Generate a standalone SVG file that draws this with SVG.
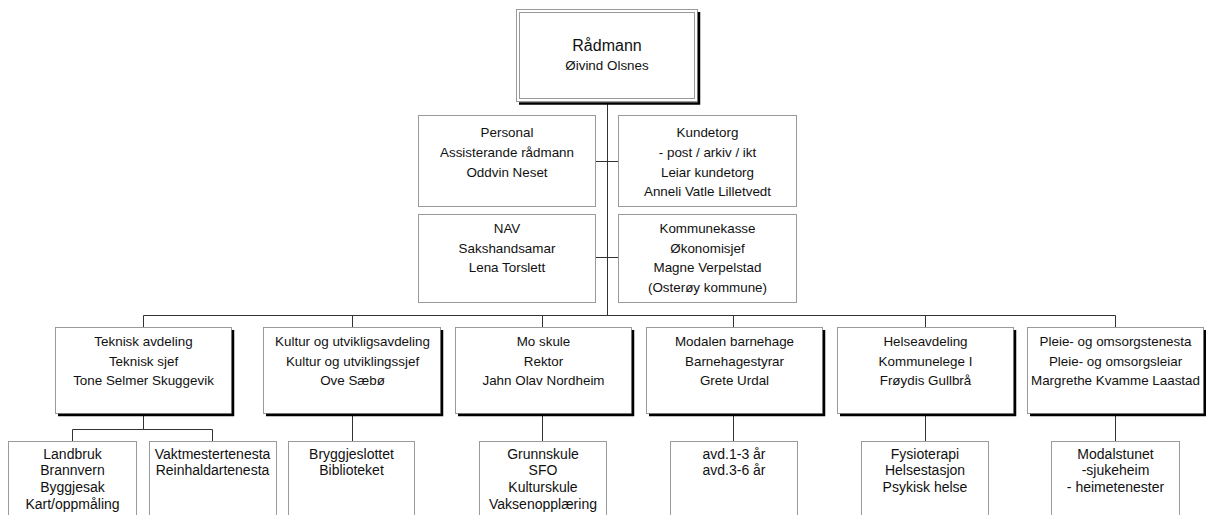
<svg xmlns="http://www.w3.org/2000/svg" width="1206" height="515" viewBox="0 0 1206 515">
<style>
  text { font-family: "Liberation Sans", Arial, sans-serif; font-size: 13.4px; fill: #111; text-anchor: middle; }
  .big { font-size: 16px; }
  .s3 { font-size: 14px; }
  .box { fill: #fff; stroke: #9a9a9a; stroke-width: 1; }
  .shadow { fill: none; stroke: #000; stroke-width: 2.5; }
  .conn { fill: none; stroke: #333; stroke-width: 1; }
</style>
<rect width="1206" height="515" fill="#fff"/>

<g id="connectors">
  <path class="conn" d="M607.5 103 V315.5"/>
  <path class="conn" d="M596 161.5 H618"/>
  <path class="conn" d="M596 257.5 H618"/>
  <path class="conn" d="M143.5 315.5 H1115.5"/>
  <path class="conn" d="M143.5 315.5 V327 M352.5 315.5 V327 M542.5 315.5 V327 M733.5 315.5 V327 M925.5 315.5 V327 M1115.5 315.5 V327"/>
  <path class="conn" d="M143.5 416 V429.5 M72.5 441 V429.5 H212.5 V441"/>
  <path class="conn" d="M352.5 416 V441 M542.5 416 V441 M733.5 416 V441 M925.5 416 V441 M1115.5 416 V441"/>
</g>

<g id="radmann">
  <rect class="box" x="516.5" y="9.5" width="181" height="92"/>
  <rect class="box" x="519.5" y="12.5" width="175" height="86"/>
  <path class="shadow" d="M699 12 V103.5 H519"/>
  <text class="big" x="607" y="51">Rådmann</text>
  <text x="607" y="70">Øivind Olsnes</text>
</g>

<g id="personal">
  <rect class="box" x="418.5" y="115.5" width="177" height="91"/>
  <text x="507" y="137">Personal</text>
  <text x="507" y="157">Assisterande rådmann</text>
  <text x="507" y="176.5">Oddvin Neset</text>
</g>
<g id="kundetorg">
  <rect class="box" x="618.5" y="115.5" width="178" height="91"/>
  <text x="707.5" y="137">Kundetorg</text>
  <text x="707.5" y="157">- post / arkiv / ikt</text>
  <text x="707.5" y="176.5">Leiar kundetorg</text>
  <text x="707.5" y="196">Anneli Vatle Lilletvedt</text>
</g>
<g id="nav">
  <rect class="box" x="418.5" y="214.5" width="177" height="88"/>
  <text x="507" y="233">NAV</text>
  <text x="507" y="252.5">Sakshandsamar</text>
  <text x="507" y="272">Lena Torslett</text>
</g>
<g id="kommunekasse">
  <rect class="box" x="618.5" y="214.5" width="178" height="88"/>
  <text x="707.5" y="233">Kommunekasse</text>
  <text x="707.5" y="252.5">Økonomisjef</text>
  <text x="707.5" y="272">Magne Verpelstad</text>
  <text x="707.5" y="292">(Osterøy kommune)</text>
</g>

<g id="teknisk">
  <rect class="box" x="55.5" y="327.5" width="176" height="86"/>
  <path class="shadow" d="M233 330 V415 H58"/>
  <text x="143.5" y="346">Teknisk avdeling</text>
  <text x="143.5" y="365.5">Teknisk sjef</text>
  <text x="143.5" y="385">Tone Selmer Skuggevik</text>
</g>
<g id="kultur">
  <rect class="box" x="263.5" y="327.5" width="177" height="86"/>
  <path class="shadow" d="M442 330 V415 H266"/>
  <text x="352.5" y="346">Kultur og utvikligsavdeling</text>
  <text x="352.5" y="365.5">Kultur og utviklingssjef</text>
  <text x="352.5" y="385">Ove Sæbø</text>
</g>
<g id="moskule">
  <rect class="box" x="455.5" y="327.5" width="176" height="86"/>
  <path class="shadow" d="M633 330 V415 H458"/>
  <text x="543.5" y="346">Mo skule</text>
  <text x="543.5" y="365.5">Rektor</text>
  <text x="543.5" y="385">Jahn Olav Nordheim</text>
</g>
<g id="barnehage">
  <rect class="box" x="646.5" y="327.5" width="176" height="86"/>
  <path class="shadow" d="M824 330 V415 H649"/>
  <text x="734.5" y="346">Modalen barnehage</text>
  <text x="734.5" y="365.5">Barnehagestyrar</text>
  <text x="734.5" y="385">Grete Urdal</text>
</g>
<g id="helse">
  <rect class="box" x="837.5" y="327.5" width="176" height="86"/>
  <path class="shadow" d="M1015 330 V415 H840"/>
  <text x="925.5" y="346">Helseavdeling</text>
  <text x="925.5" y="365.5">Kommunelege I</text>
  <text x="925.5" y="385">Frøydis Gullbrå</text>
</g>
<g id="pleie">
  <rect class="box" x="1027.5" y="327.5" width="176" height="86"/>
  <path class="shadow" d="M1205 330 V415 H1030"/>
  <text x="1115.5" y="346">Pleie- og omsorgstenesta</text>
  <text x="1115.5" y="365.5">Pleie- og omsorgsleiar</text>
  <text x="1115.5" y="385">Margrethe Kvamme Laastad</text>
</g>

<g id="landbruk">
  <rect class="box" x="8.5" y="441.5" width="128" height="90"/>
  <text class="s3" x="72.5" y="458.5">Landbruk</text>
  <text class="s3" x="72.5" y="475">Brannvern</text>
  <text class="s3" x="72.5" y="491.5">Byggjesak</text>
  <text class="s3" x="72.5" y="508.5">Kart/oppmåling</text>
</g>
<g id="vaktmester">
  <rect class="box" x="149.5" y="441.5" width="127" height="90"/>
  <text class="s3" x="212.5" y="458.5">Vaktmestertenesta</text>
  <text class="s3" x="212.5" y="475">Reinhaldartenesta</text>
</g>
<g id="bryggjeslottet">
  <rect class="box" x="288.5" y="441.5" width="126" height="90"/>
  <text class="s3" x="351.5" y="458.5">Bryggjeslottet</text>
  <text class="s3" x="351.5" y="475">Biblioteket</text>
</g>
<g id="grunnskule">
  <rect class="box" x="479.5" y="441.5" width="127" height="90"/>
  <text class="s3" x="543" y="458.5">Grunnskule</text>
  <text class="s3" x="543" y="475">SFO</text>
  <text class="s3" x="543" y="491.5">Kulturskule</text>
  <text class="s3" x="543" y="508.5">Vaksenopplæring</text>
</g>
<g id="avd">
  <rect class="box" x="670.5" y="441.5" width="127" height="90"/>
  <text class="s3" x="734" y="458.5">avd.1-3 år</text>
  <text class="s3" x="734" y="475">avd.3-6 år</text>
</g>
<g id="fysioterapi">
  <rect class="box" x="861.5" y="441.5" width="127" height="90"/>
  <text class="s3" x="925" y="458.5">Fysioterapi</text>
  <text class="s3" x="925" y="475">Helsestasjon</text>
  <text class="s3" x="925" y="491.5">Psykisk helse</text>
</g>
<g id="modalstunet">
  <rect class="box" x="1051.5" y="441.5" width="128" height="90"/>
  <text class="s3" x="1115.5" y="458.5">Modalstunet</text>
  <text class="s3" x="1115.5" y="475">-sjukeheim</text>
  <text class="s3" x="1115.5" y="491.5">- heimetenester</text>
</g>
</svg>
